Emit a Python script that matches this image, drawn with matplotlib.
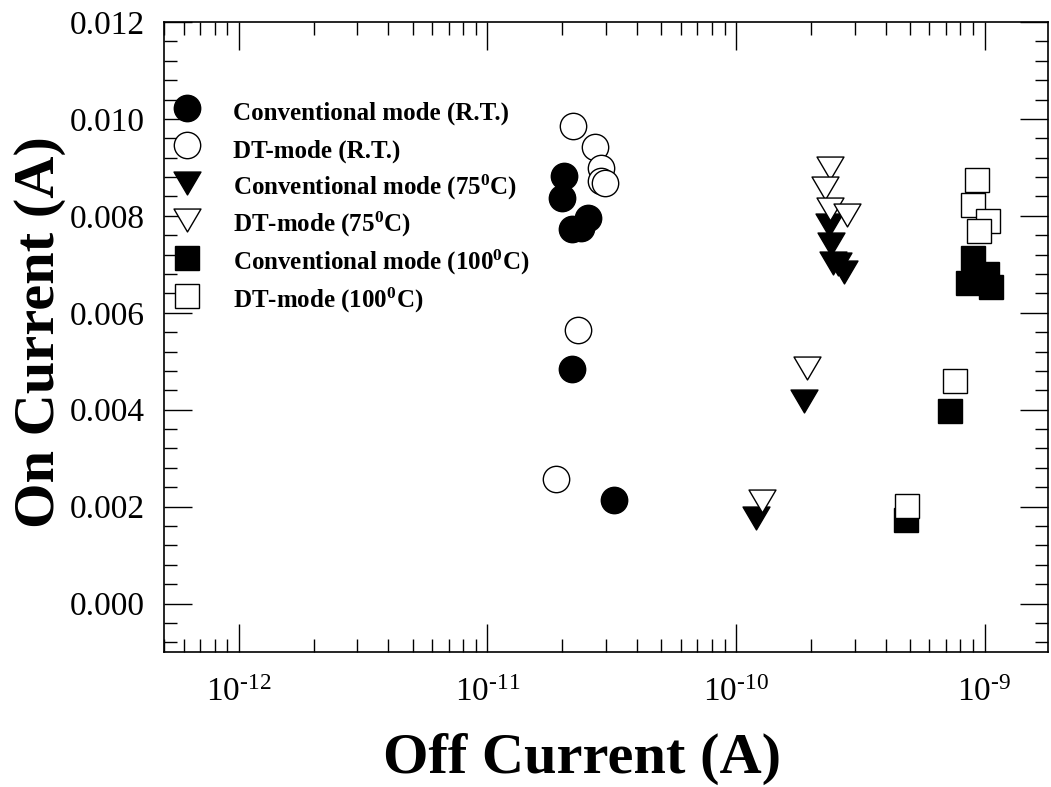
import matplotlib
matplotlib.use('Agg')
import matplotlib.pyplot as plt
from matplotlib.ticker import MultipleLocator, LogLocator, FuncFormatter, FormatStrFormatter, NullFormatter
from matplotlib.path import Path
import numpy as np

plt.rcParams['font.family'] = ['Liberation Serif', 'DejaVu Serif']
plt.rcParams['mathtext.fontset'] = 'custom'
plt.rcParams['mathtext.rm'] = 'Liberation Serif'
plt.rcParams['mathtext.it'] = 'Liberation Serif:italic'
plt.rcParams['mathtext.bf'] = 'Liberation Serif:bold'

# ---- data (Off current [A], On current [A]) ----
conv_rt_off = [2.03e-11, 2.00e-11, 2.54e-11, 2.18e-11, 2.39e-11, 2.19e-11, 3.22e-11]
conv_rt_on = [0.00882, 0.00837, 0.00796, 0.00772, 0.00775, 0.00483, 0.00213]

dt_rt_off = [2.22e-11, 2.70e-11, 2.87e-11, 2.87e-11, 2.96e-11, 2.31e-11, 1.88e-11]
dt_rt_on = [0.00985, 0.00942, 0.00899, 0.00872, 0.00868, 0.00564, 0.00257]

conv_75_off = [2.36e-10, 2.42e-10, 2.45e-10, 2.57e-10, 2.73e-10, 1.87e-10, 1.20e-10]
conv_75_on = [0.00782, 0.00741, 0.00703, 0.00700, 0.00685, 0.00417, 0.00177]

dt_75_off = [2.38e-10, 2.29e-10, 2.38e-10, 2.80e-10, 1.93e-10, 1.27e-10]
dt_75_on = [0.00899, 0.00858, 0.00815, 0.00802, 0.00486, 0.00212]

conv_100_off = [8.98e-10, 1.02e-09, 8.59e-10, 1.06e-09, 7.28e-10, 4.83e-10]
conv_100_on = [0.00713, 0.00679, 0.00661, 0.00653, 0.00398, 0.00173]

dt_100_off = [9.34e-10, 9.00e-10, 1.03e-09, 9.46e-10, 7.62e-10, 4.88e-10]
dt_100_on = [0.00875, 0.00822, 0.00789, 0.00769, 0.00460, 0.00201]

labels = [
    'Conventional mode (R.T.)',
    'DT-mode (R.T.)',
    r'Conventional mode (75$^{\mathbf{0}}$C)',
    r'DT-mode (75$^{\mathbf{0}}$C)',
    r'Conventional mode (100$^{\mathbf{0}}$C)',
    r'DT-mode (100$^{\mathbf{0}}$C)',
]

x_major_ticks = [1e-12, 1e-11, 1e-10, 1e-9]
y_major_ticks = [0.000, 0.002, 0.004, 0.006, 0.008, 0.010, 0.012]

# ---- figure ----
fig = plt.figure(figsize=(10.51, 7.87), dpi=100)
ax = fig.add_axes([164 / 1051, 1 - 652 / 787, (1048 - 164) / 1051, (652 - 22) / 787])

tri = Path([(-1, 0.85), (1, 0.85), (0, -0.85), (-1, 0.85)],
           [Path.MOVETO, Path.LINETO, Path.LINETO, Path.CLOSEPOLY])

series = [
    (conv_rt_off, conv_rt_on, 'o', 'black', 19.0),
    (dt_rt_off, dt_rt_on, 'o', 'white', 19.0),
    (conv_75_off, conv_75_on, tri, 'black', 19.4),
    (dt_75_off, dt_75_on, tri, 'white', 19.4),
    (conv_100_off, conv_100_on, 's', 'black', 17.0),
    (dt_100_off, dt_100_on, 's', 'white', 17.0),
]
for (xs, ys, mk, fc, ms), lab in zip(series, labels):
    ax.plot(xs, ys, linestyle='none', marker=mk, markersize=ms,
            markerfacecolor=fc, markeredgecolor='black', markeredgewidth=1.0,
            label=lab)

ax.set_xscale('log')
ax.set_xlim(5e-13, 1.8e-9)
ax.set_ylim(-0.001, 0.012)

ax.set_xticks(x_major_ticks)
ax.xaxis.set_minor_locator(LogLocator(base=10, subs=range(2, 10), numticks=20))
ax.xaxis.set_minor_formatter(NullFormatter())


def log_fmt(v, pos):
    e = int(round(np.log10(v)))
    return r'$10^{\text{%d}}$' % e


ax.xaxis.set_major_formatter(FuncFormatter(log_fmt))

ax.set_yticks(y_major_ticks)
ax.yaxis.set_minor_locator(MultipleLocator(0.0004))
ax.yaxis.set_major_formatter(FormatStrFormatter('%.3f'))

ax.tick_params(which='both', direction='in', top=True, right=True, width=1.0)
ax.tick_params(which='major', length=20, labelsize=24)
ax.tick_params(axis='x', which='major', pad=18)
ax.tick_params(axis='y', which='major', pad=14)
ax.tick_params(which='minor', length=9.5)
for sp in ax.spines.values():
    sp.set_linewidth(1.2)

ax.set_xlabel('Off Current (A)', fontsize=42, fontweight='bold')
ax.xaxis.set_label_coords(0.473, -0.128)
ax.set_ylabel('On Current (A)', fontsize=42, fontweight='bold')
ax.yaxis.set_label_coords(-0.111, 0.508)

leg = ax.legend(loc='upper left', bbox_to_anchor=(0.0115, 0.882), frameon=False,
                prop={'size': 18, 'weight': 'bold'}, handlelength=1.0,
                handleheight=1.5, handletextpad=1.35, labelspacing=0.27,
                borderpad=0, borderaxespad=0, numpoints=1)

fig.savefig('out.png', dpi=100)
